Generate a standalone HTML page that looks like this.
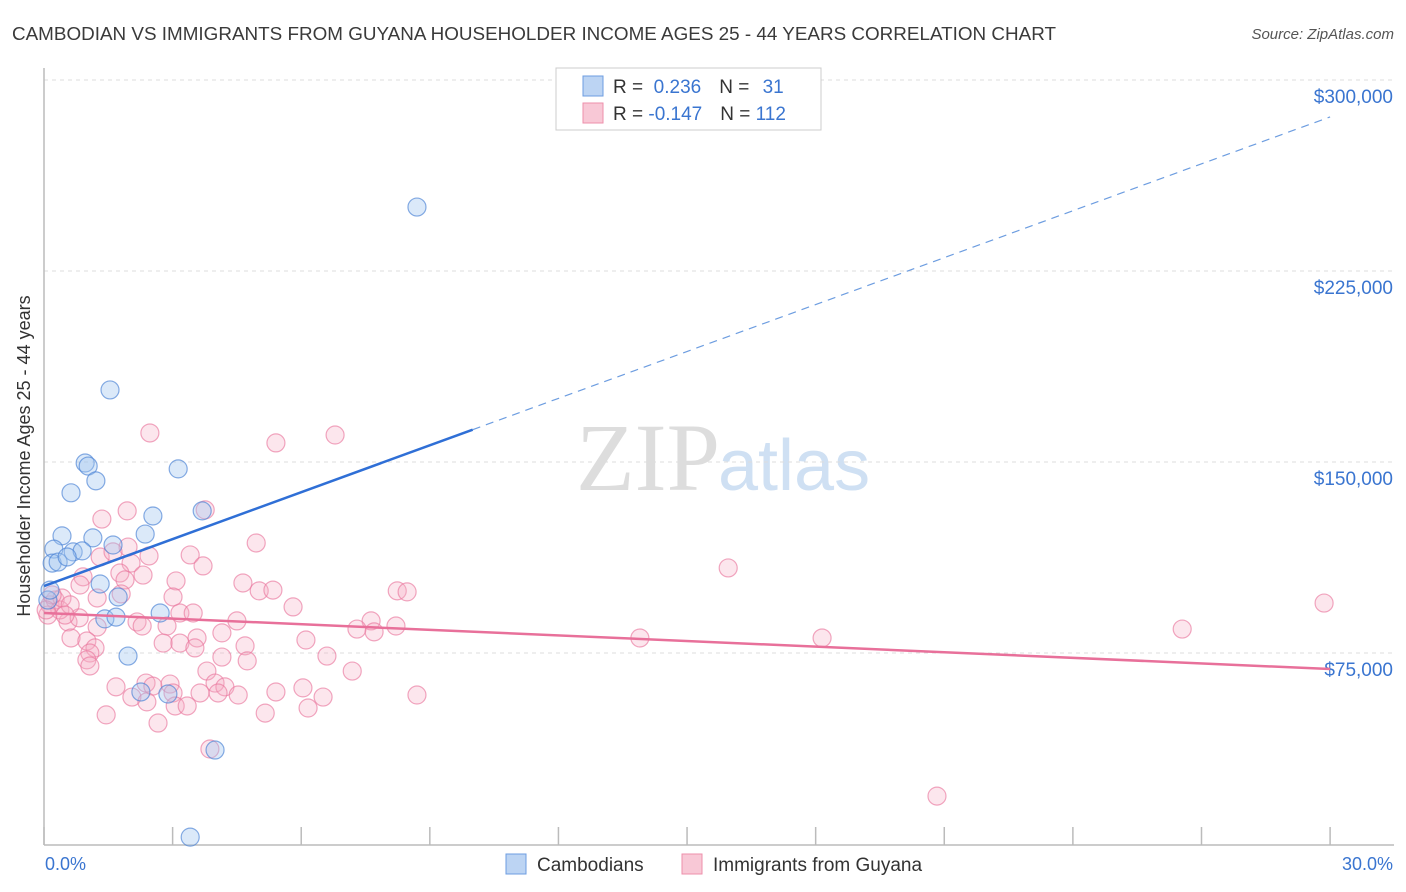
<!DOCTYPE html>
<html><head><meta charset="utf-8"><style>
body{margin:0;background:#fff;font-family:"Liberation Sans",sans-serif}
#wrap{position:relative;width:1406px;height:892px;overflow:hidden}
</style></head><body>
<div id="wrap">
<svg id="svg" width="1406" height="892" xmlns="http://www.w3.org/2000/svg">
<text x="12" y="40" font-size="18.5" fill="#3a3a3a" textLength="1044" lengthAdjust="spacingAndGlyphs">CAMBODIAN VS IMMIGRANTS FROM GUYANA HOUSEHOLDER INCOME AGES 25 - 44 YEARS CORRELATION CHART</text>
<text x="1394" y="39" font-size="15" fill="#555" font-style="italic" text-anchor="end">Source: ZipAtlas.com</text>
<text x="720" y="490" font-size="96" fill="#ddd" text-anchor="end" font-family="Liberation Serif,serif">ZIP</text>
<text x="718" y="490" font-size="72" fill="#cfe0f3">atlas</text>
<g id="grid"></g>
<line x1="44" y1="68" x2="44" y2="845" stroke="#bbb" stroke-width="1.5"/>
<line x1="44" y1="845" x2="1394" y2="845" stroke="#bbb" stroke-width="1.5"/>
<g id="ticks"></g>
<text x="30" y="456" font-size="18" fill="#333" text-anchor="middle" transform="rotate(-90 30 456)">Householder Income Ages 25 - 44 years</text>
<text x="45" y="870" font-size="18" fill="#3a75d0">0.0%</text>
<text x="1393" y="870" font-size="18" fill="#3a75d0" text-anchor="end">30.0%</text>
<g id="pts"></g>
<g id="lines"></g>
<g>
<rect x="556" y="68" width="265" height="62" fill="#fff" stroke="#ccc"/>
<rect x="583" y="76" width="20" height="20" fill="#bcd4f3" stroke="#6d9de0"/>
<rect x="583" y="103" width="20" height="20" fill="#f8c8d6" stroke="#ee8fab"/>
<text x="613" y="93" font-size="19" fill="#333">R = <tspan fill="#3a75d0">&#160;0.236</tspan><tspan dx="18">N = </tspan><tspan fill="#3a75d0" dx="8">31</tspan></text>
<text x="613" y="120" font-size="19" fill="#333">R = <tspan fill="#3a75d0">-0.147</tspan><tspan dx="18">N = </tspan><tspan fill="#3a75d0">112</tspan></text>
</g>
<g>
<rect x="506" y="854" width="20" height="20" fill="#bcd4f3" stroke="#6d9de0"/>
<text x="537" y="871" font-size="19" fill="#333">Cambodians</text>
<rect x="682" y="854" width="20" height="20" fill="#f8c8d6" stroke="#ee8fab"/>
<text x="713" y="871" font-size="19" fill="#333">Immigrants from Guyana</text>
</g>
</svg>
</div>
<script>
const yTicks=[75000,150000,225000,300000];
const yTickLabels=["$75,000","$150,000","$225,000","$300,000"];
const xTicks=[0,3,6,9,12,15,18,21,24,27,30];
const blueX=[8.70,1.54,0.96,1.03,3.13,1.21,0.63,2.54,3.69,0.42,2.36,1.14,0.23,0.68,0.89,1.61,0.19,0.33,0.54,1.31,1.73,2.71,1.42,1.68,1.96,2.26,2.89,3.99,3.41,0.09,0.14];
const blueY=[250.1,178.3,149.6,148.4,147.3,142.6,137.9,128.8,130.8,121.0,121.7,120.2,115.8,114.7,115.1,117.4,110.3,110.7,112.7,102.1,97.0,90.7,88.4,89.1,73.8,59.7,58.9,36.9,2.7,95.8,99.7];
const pinkX=[2.47,5.41,6.79,1.94,1.35,3.76,4.95,1.96,1.31,1.61,2.45,3.41,3.71,2.03,1.77,2.31,1.89,0.91,3.08,4.64,5.02,5.34,8.24,8.47,3.01,1.80,1.24,0.84,5.81,3.17,3.48,4.50,2.17,2.29,2.87,1.24,0.56,0.82,7.63,7.30,7.70,8.21,4.15,6.11,0.63,3.57,2.78,3.17,3.52,1.00,1.19,4.69,4.15,6.60,1.07,1.00,1.07,4.74,3.80,7.19,1.68,2.38,2.54,2.94,3.99,4.22,2.05,2.40,3.01,3.06,3.34,3.64,4.06,4.53,5.41,6.04,6.51,6.16,8.70,5.16,1.45,2.66,3.87,29.86,26.55,15.96,13.90,18.15,20.83,0.14,0.26,0.37,0.09,0.42,0.61,0.49,0.19,0.05];
const pinkY=[161.4,157.5,160.6,130.8,127.6,131.2,118.2,116.6,112.7,114.7,113.1,113.5,109.2,110.3,106.4,105.6,103.7,104.9,103.3,102.5,99.4,99.7,99.4,99.0,97.0,98.2,96.6,101.7,93.1,90.7,90.7,87.6,87.2,85.6,85.6,85.2,87.2,88.8,87.6,84.4,83.3,85.6,82.9,80.1,80.9,80.9,78.9,78.9,77.0,79.7,77.0,77.8,73.4,73.8,75.0,72.3,69.9,71.9,67.9,67.9,61.7,63.2,62.0,62.8,63.2,61.7,57.7,55.8,59.3,54.2,54.2,59.3,59.3,58.5,59.7,61.3,57.7,53.4,58.5,51.4,50.7,47.5,37.3,94.6,84.4,108.4,80.9,80.9,18.8,93.9,95.8,91.9,89.9,96.6,93.9,89.9,97.8,91.9];
const blueTrend=[101.3,285.5];
const pinkTrend=[90.7,68.7];
const NS="http://www.w3.org/2000/svg";
const X=p=>44+p*42.87;
function yv(k){return 844-k*191/75;}
function mk(t,a,parent){const e=document.createElementNS(NS,t);for(const k in a)e.setAttribute(k,a[k]);parent.appendChild(e);return e;}
const grid=document.getElementById('grid'),ticks=document.getElementById('ticks'),pts=document.getElementById('pts'),lines=document.getElementById('lines');
yTicks.forEach((v,i)=>{const y=yv(v/1000);
 const l=mk('line',{x1:44,x2:1394,y1:y,y2:y,stroke:'#ddd','stroke-dasharray':'4,4'},grid);
 
 
 const t=mk('text',{x:1393,y:y+23,'font-size':19,fill:'#3a75d0','text-anchor':'end'},ticks);
 t.textContent=yTickLabels[i];
 
 
});
xTicks.forEach(p=>{const x=X(p);
 const l=mk('line',{x1:x,x2:x,y1:827,y2:845,stroke:'#bbb','stroke-width':1.5},ticks);
 
 
});
pinkX.forEach((p,i)=>{const c=mk('circle',{cx:X(p),cy:yv(pinkY[i]),r:9,fill:'rgba(246,172,196,0.3)',stroke:'rgba(234,120,158,0.65)','stroke-width':1.2},pts);
 
 
});
blueX.forEach((p,i)=>{const c=mk('circle',{cx:X(p),cy:yv(blueY[i]),r:9,fill:'rgba(160,196,240,0.38)',stroke:'rgba(70,128,212,0.65)','stroke-width':1.2},pts);
 
 
});
const bx=10;const bmid=blueTrend[0]+(blueTrend[1]-blueTrend[0])*bx/30;
const b1=mk('line',{x1:X(0),y1:yv(blueTrend[0]),x2:X(bx),y2:yv(bmid),stroke:'#2f6fd6','stroke-width':2.5},lines);


const b2=mk('line',{x1:X(bx),y1:yv(bmid),x2:X(30),y2:yv(blueTrend[1]),stroke:'#6d9de0','stroke-width':1.2,'stroke-dasharray':'8,6'},lines);


const p1=mk('line',{x1:X(0),y1:yv(pinkTrend[0]),x2:X(30),y2:yv(pinkTrend[1]),stroke:'#e8709a','stroke-width':2.5},lines);


</script>
</body></html>
